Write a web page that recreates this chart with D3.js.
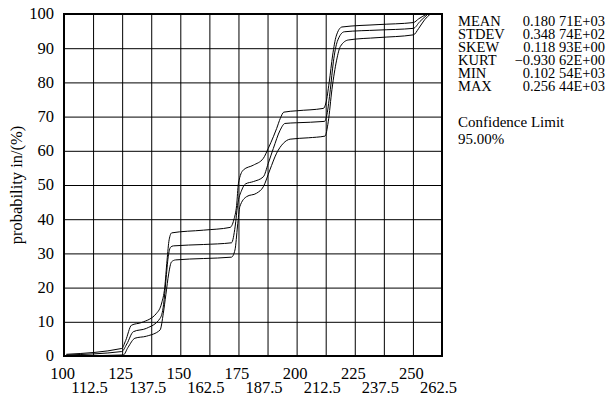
<!DOCTYPE html>
<html>
<head>
<meta charset="utf-8">
<script src="https://cdn.jsdelivr.net/npm/d3@7"></script>
<style>
  body { margin: 0; background: #fff; }
  text { font-family: "Liberation Serif", "Times New Roman", serif; fill: #000; }
</style>
</head>
<body>
<div class="chart"></div>
<script>
// tick values
const xTicks = [100, 112.5, 125, 137.5, 150, 162.5, 175, 187.5, 200, 212.5, 225, 237.5, 250, 262.5];
const yTicks = [0, 10, 20, 30, 40, 50, 60, 70, 80, 90, 100];

// summary statistics
const statNames = ["MEAN", "STDEV", "SKEW", "KURT", "MIN", "MAX"];
const statValues = ["0.180 71E+03", "0.348 74E+02", "0.118 93E+00", "\u22120.930 62E+00", "0.102 54E+03", "0.256 44E+03"];
const confLabel = "Confidence Limit";
const confValue = "95.00%";

// cumulative probability curve and its two confidence bounds, [value, %]
const upperCurve = [[101, 0.5], [124.8, 2.2], [126.5, 4.5], [129, 9], [133.4, 9.8], [139.8, 12.5], [142, 15.5],
  [143.3, 20], [144.3, 28], [145.2, 34], [146.3, 36], [160, 36.8], [171.4, 37.6], [173, 39.8], [174.2, 44],
  [175, 50.5], [177.1, 54.4], [181.4, 55.8], [185.7, 57.8], [187.8, 60.7], [190, 64.1], [191.4, 66.5],
  [193, 69.5], [194.5, 71.3], [200, 71.7], [211.5, 72.4], [212.6, 74], [214, 80], [215.5, 88], [217, 93.5],
  [219.5, 96.2], [235, 96.9], [250.2, 97.5], [252.5, 98.6], [256, 100]];
const middleCurve = [[101, 0.3], [124.8, 1.3], [127, 3.5], [129.8, 7.1], [135.5, 8.1], [141.3, 11], [142.8, 15],
  [143.8, 22], [144.8, 29], [145.8, 31.8], [147, 32.2], [160, 32.6], [172, 33.1], [173.6, 38], [174.6, 44],
  [176.4, 48.5], [178, 50.3], [181.4, 51], [185.7, 52.4], [187.8, 56.3], [190, 60.7], [192.9, 66], [195, 68],
  [200, 68.2], [212, 68.6], [213, 70.5], [214.5, 78], [215.8, 86], [217.5, 92], [220.5, 94.8], [235, 95.3],
  [250.2, 95.8], [253, 97.8], [256.5, 100]];
const lowerCurve = [[102, 0], [125.5, 0.3], [127.5, 2.5], [130.5, 5.2], [135.5, 5.8], [141.3, 7.6], [142.7, 12.5],
  [143.8, 18], [145, 24], [146.2, 27.5], [148, 28.1], [160, 28.5], [172, 28.9], [173.5, 31], [174.6, 38],
  [175.6, 43.7], [178.5, 46.6], [182.8, 47.6], [185.7, 49.5], [188.5, 54.4], [191.4, 59.3], [194.3, 62.2],
  [197.2, 63.4], [205, 63.8], [212.2, 64.3], [213.6, 68.5], [215.2, 78], [217.2, 86.5], [218.8, 90.5],
  [222.2, 92.4], [235, 93.1], [250.2, 93.9], [252.5, 95.8], [255, 98.3], [257.5, 100]];

const margin = {top: 14, right: 168, bottom: 42, left: 64};
const width = 610 - margin.left - margin.right;
const height = 398 - margin.top - margin.bottom;

const svg = d3.select(".chart")
  .append("svg")
  .attr("width", 610)
  .attr("height", 398);

const g = svg.append("g")
  .attr("transform", `translate(${margin.left},${margin.top})`);

const xScale = d3.scaleLinear().domain([100, 262.5]).range([0, width]);
const yScale = d3.scaleLinear().domain([0, 100]).range([height, 0]);

// grid
g.append("g")
  .attr("transform", `translate(0,${height})`)
  .call(d3.axisBottom(xScale).tickValues(xTicks).tickSize(-height).tickFormat(""))
  .call(a => a.select(".domain").remove())
  .selectAll("line").attr("stroke", "#000").attr("stroke-width", 1);

g.append("g")
  .call(d3.axisLeft(yScale).tickValues(yTicks).tickSize(-width).tickFormat(""))
  .call(a => a.select(".domain").remove())
  .selectAll("line").attr("stroke", "#000").attr("stroke-width", 1);

// x tick labels, staggered on two rows
const xAxis = g.append("g")
  .attr("transform", `translate(0,${height})`)
  .call(d3.axisBottom(xScale).tickValues(xTicks).tickSize(0).tickFormat(d => d));
xAxis.select(".domain").remove();
xAxis.selectAll("text")
  .attr("font-size", 16.5)
  .attr("font-family", "Liberation Serif")
  .attr("dy", null)
  .attr("y", (d, i) => i % 2 === 0 ? 23 : 37)
  .attr("x", (d, i) => i % 2 === 0 ? -2 : -4);

// y tick labels
const yAxis = g.append("g")
  .call(d3.axisLeft(yScale).tickValues(yTicks).tickSize(0).tickPadding(10).tickFormat(d => d));
yAxis.select(".domain").remove();
yAxis.selectAll("text")
  .attr("font-size", 16.5)
  .attr("font-family", "Liberation Serif")
  .attr("dy", "0.3em");

// frame
g.append("rect")
  .attr("width", width)
  .attr("height", height)
  .attr("fill", "none")
  .attr("stroke", "#000")
  .attr("stroke-width", 2);

// curves
const line = d3.line()
  .x(d => xScale(d[0]))
  .y(d => yScale(d[1]))
  .curve(d3.curveMonotoneX);

[upperCurve, middleCurve, lowerCurve].forEach(c => {
  g.append("path")
    .datum(c)
    .attr("fill", "none")
    .attr("stroke", "#000")
    .attr("stroke-width", 1)
    .attr("d", line);
});

// y axis title
svg.append("text")
  .attr("transform", `translate(22,${margin.top + height / 2}) rotate(-90)`)
  .attr("text-anchor", "middle")
  .attr("font-size", 16.5)
  .text("probability in/(%)");

// statistics block
const stats = svg.append("g");
statNames.forEach((n, i) => {
  stats.append("text")
    .attr("x", 458)
    .attr("y", 26 + i * 13)
    .attr("font-size", 14.5)
    .text(n);
  stats.append("text")
    .attr("x", 605)
    .attr("y", 26 + i * 13)
    .attr("text-anchor", "end")
    .attr("font-size", 14.5)
    .text(statValues[i]);
});

stats.append("text")
  .attr("x", 458)
  .attr("y", 127)
  .attr("font-size", 15)
  .text(confLabel);
stats.append("text")
  .attr("x", 458)
  .attr("y", 144)
  .attr("font-size", 15)
  .text(confValue);
</script>
</body>
</html>
